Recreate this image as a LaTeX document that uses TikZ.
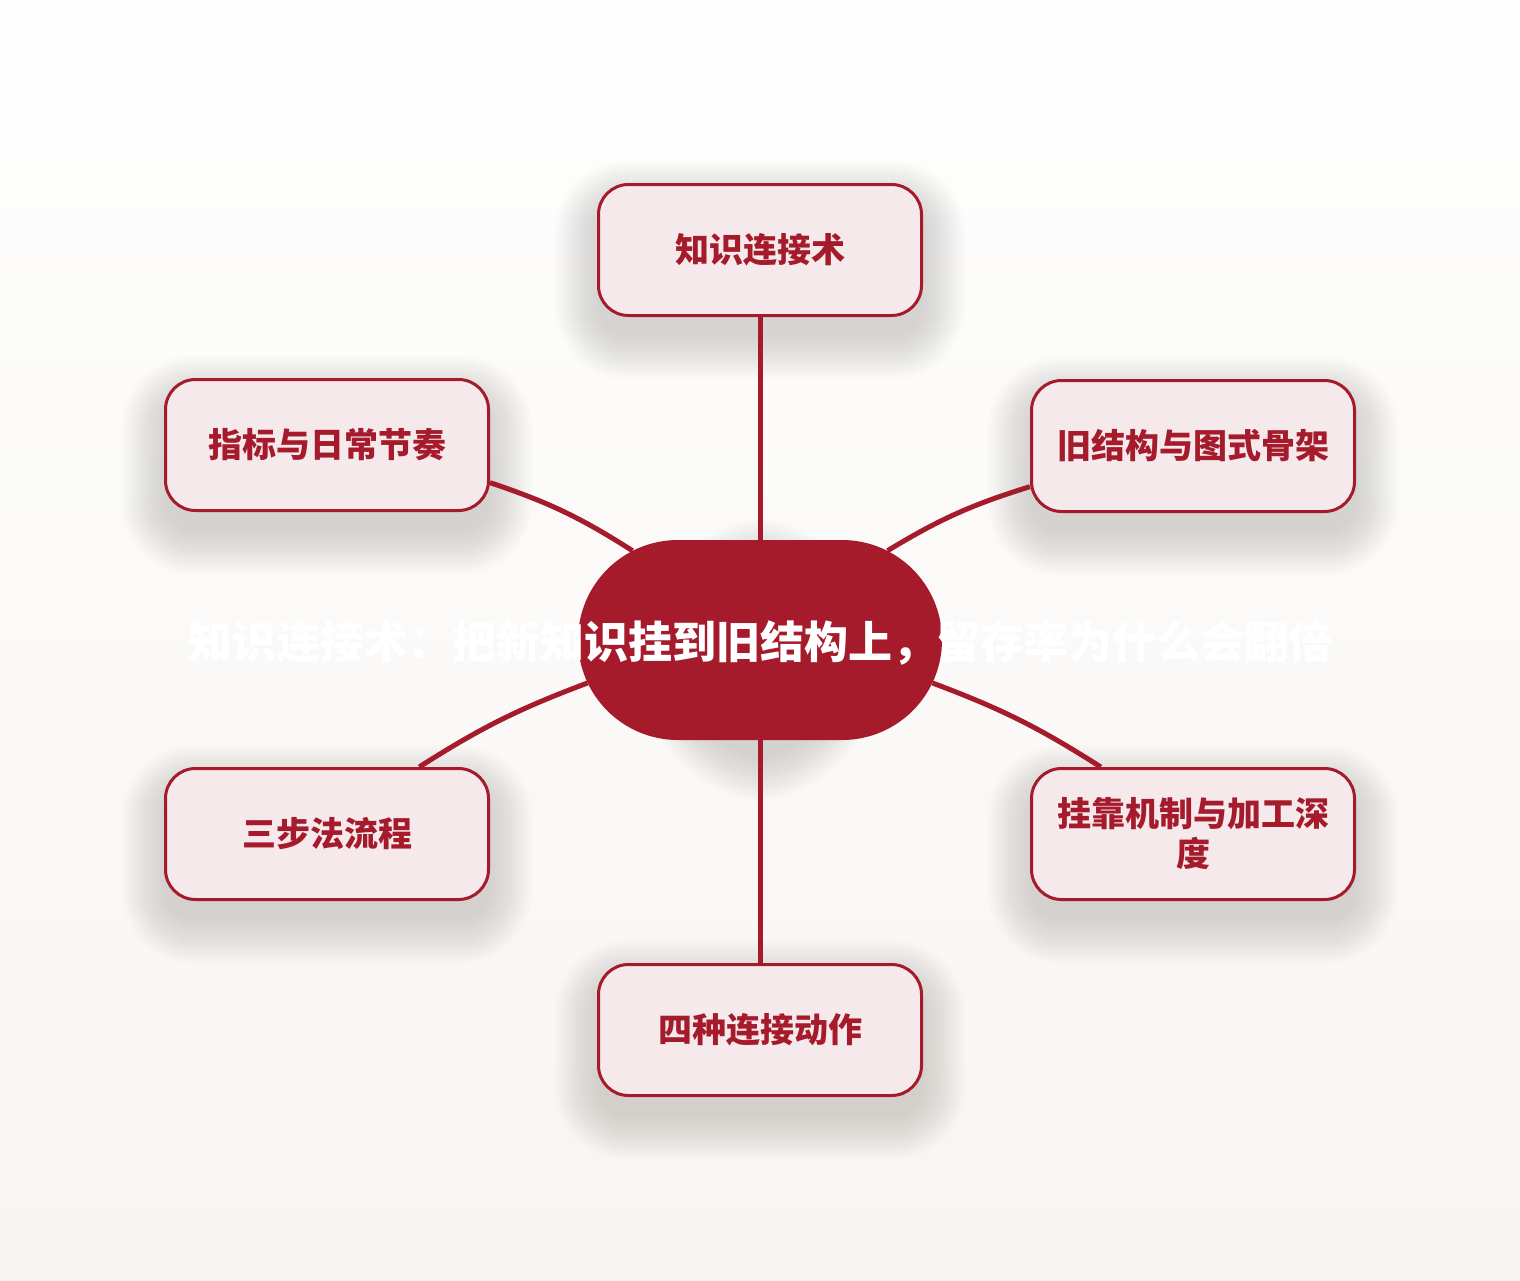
\documentclass[tikz,border=0pt]{standalone}
\usepackage{fontspec}
\setmainfont{Noto Sans CJK SC}
\usetikzlibrary{shapes.misc,backgrounds}
\definecolor{hubred}{HTML}{A51B2B}
\definecolor{leafpink}{HTML}{F5E9EC}
\definecolor{bgtop}{HTML}{FEFEFE}
\definecolor{bgbot}{HTML}{F7F5F1}
\definecolor{shadowgray}{HTML}{3A3530}

\begin{document}
\begin{tikzpicture}[x=1pt,y=-1pt,
        leaf/.style={draw=hubred,line width=3pt,fill=leafpink,rounded corners=30pt,
            minimum width=323pt,minimum height=131pt,align=center,text=hubred,
            font=\fontsize{34}{40}\selectfont\bfseries},
        hubnode/.style={rounded rectangle,fill=hubred,minimum width=364pt,
            minimum height=200pt,inner sep=0pt},
        hubtext/.style={text=white,font=\fontsize{44}{52}\selectfont\bfseries},
        link/.style={draw=hubred,line width=5pt},
        haze/.style={fill=shadowgray,opacity=0.012}]
        \useasboundingbox (0,0) rectangle (1520,1280);
        % outer ring
        \node[leaf] (tech) at (760,250) {知识连接术};
        \node[leaf] (rhythm) at (327,445) {指标与日常节奏};
        \node[leaf] (schema) at (1193,446) {旧结构与图式骨架};
        \node[leaf] (steps) at (327,834) {三步法流程};
        \node[leaf] (depth) at (1193,834) {挂靠机制与加工深\\度};
        \node[leaf] (moves) at (760,1030) {四种连接动作};
        % centre
        \node[hubnode] (hub) at (760,640) {};
        \node[hubtext] (title) at ([yshift=-3pt]hub.center) {知识连接术：把新知识挂到旧结构上，留存率为什么会翻倍};
        % links
        \draw[link] (tech.south) -- (hub.north);
        \draw[link] (hub.south) -- (moves.north);
        \draw[link] (rhythm.-13) to[bend left=7] (hub.145);
        \draw[link] (schema.194) to[bend right=7] (hub.35);
        \draw[link] (steps.36) to[bend left=6] (hub.194);
        \draw[link] (depth.144) to[bend right=6] (hub.-14);
        % page and soft shadows
        \begin{scope}[on background layer]
            \shade[top color=bgtop,bottom color=bgbot] (0,0) rectangle (1520,1280);
            \foreach \n/\r in {tech/30,rhythm/30,schema/30,steps/30,depth/30,moves/30,hub/100}
                \foreach \k in {0,...,14}
                    \fill[haze,rounded corners=\r pt+\k*3pt]
                        ([shift={(-\k*3pt,-20pt+\k*3pt)}]\n.north west) rectangle
                        ([shift={(\k*3pt,-20pt-\k*3pt)}]\n.south east);
        \end{scope}
    \end{tikzpicture}
\end{document}
